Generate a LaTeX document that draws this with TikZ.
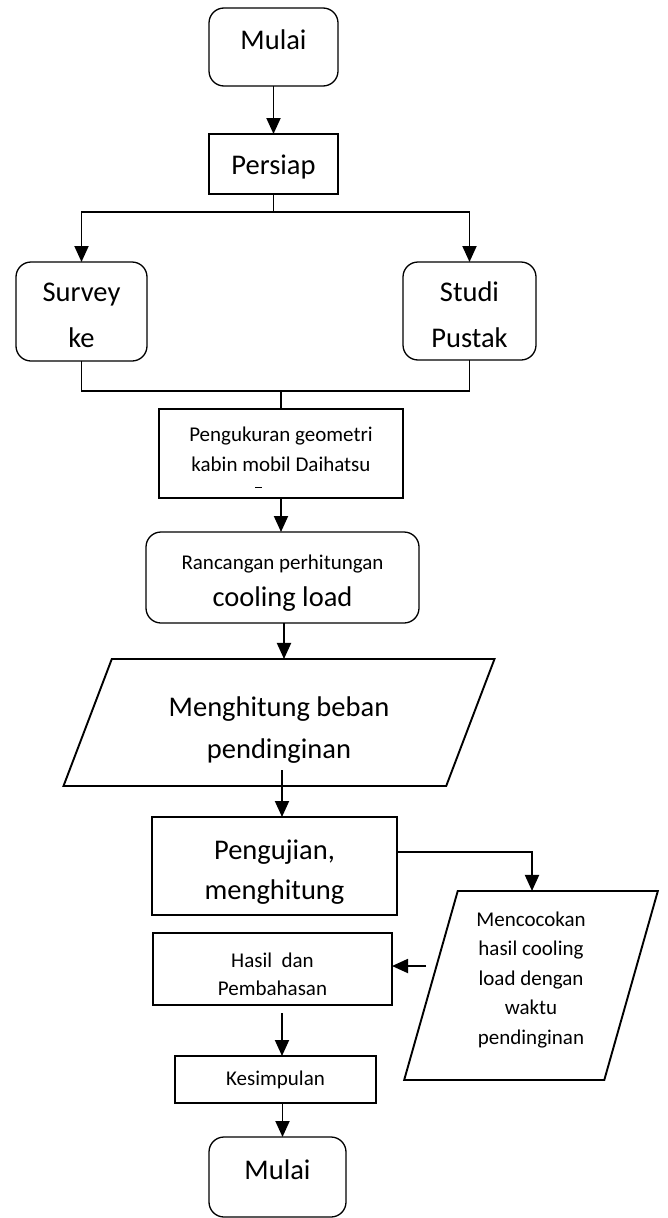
\documentclass[tikz,border=0pt]{standalone}
\usepackage{fontspec}
\setmainfont{Carlito}
\usetikzlibrary{arrows.meta,shapes.geometric}

% empty lines to nudge text up or down inside a box
\newcommand{\padtop}[1]{\mbox{}\\[#1]}
\newcommand{\padbot}[1]{\\[#1]\mbox{}}

\begin{document}
\begin{tikzpicture}[x=1pt, y=-1pt,
    flowbox/.style={draw, line width=1.9pt, inner sep=0pt, outer sep=0pt, align=center},
    roundbox/.style={flowbox, line width=1.3pt, rounded corners=15pt},
    iobox/.style={flowbox, trapezium, trapezium stretches=true},
    bigtext/.style={font=\fontsize{28.5}{41}\selectfont},
    smalltext/.style={font=\fontsize{21}{29}\selectfont},
    line/.style={line width=1.9pt},
    arr/.style={line, -{Triangle[length=16pt,width=14pt]}}]
    \useasboundingbox (0,0) rectangle (667,1218);

    % Start and preparation
    \node[roundbox, bigtext, minimum width=129pt, minimum height=78pt] (start) at (273.5,47) {Mulai\padbot{-27pt}};
    \node[flowbox, bigtext, minimum width=129pt, minimum height=60pt] (persiap) at (273.5,164) {\padtop{-16pt}Persiap};
    \draw[arr] (start) -- (persiap);

    % Survey and literature study
    \node[roundbox, font=\fontsize{28.5}{46}\selectfont, minimum width=131pt, minimum height=99pt] (survey) at (81.5,311.5) {\padtop{-20pt}Survey\\ke};
    \node[roundbox, font=\fontsize{28.5}{46}\selectfont, minimum width=133pt, minimum height=98pt] (studi) at (469.5,311) {\padtop{-19pt}Studi\\Pustak};
    \coordinate (split) at (273.5,212);
    \draw[arr] (persiap.south) -- (split) -| (survey.north);
    \draw[arr] (split) -| (studi.north);

    % Measuring the cabin
    \node[flowbox, font=\fontsize{21}{30}\selectfont, minimum width=244pt, minimum height=89pt] (ukur) at (281,453.5) {Pengukuran geometri\\kabin mobil Daihatsu\padbot{-22pt}};
    \draw[line width=0.6pt] (255,487) -- (262,487);
    \coordinate (join) at (281,391);
    \draw[line] (survey.south) |- (join) -| (studi.south);
    \draw[line] (join) -- (ukur.north);

    % Cooling load design
    \node[roundbox, smalltext, minimum width=273pt, minimum height=91pt] (rancang) at (282.5,577.5) {\padtop{-4pt}Rancangan perhitungan\\[8pt]{\fontsize{28.5}{34}\selectfont cooling load}};
    \draw[arr] (ukur.south) -- (ukur.south |- rancang.north);

    % Computing the load
    \node[iobox, font=\fontsize{28.5}{42}\selectfont, trapezium left angle=68.5, trapezium right angle=111.5,
        minimum width=432pt, minimum height=127pt] (hitung) at (279,722.5) {\padtop{-8pt}Menghitung beban\\pendinginan};
    \draw[arr] ([xshift=1.5pt]rancang.south) -- ([xshift=1.5pt]rancang.south |- hitung.north);

    % Testing
    \node[flowbox, font=\fontsize{28.5}{40}\selectfont, minimum width=245pt, minimum height=98pt] (uji) at (274.5,866) {\padtop{-9pt}Pengujian,\\menghitung};
    \coordinate (hitungout) at (282,770);
    \draw[arr] (hitungout) -- (hitungout |- uji.north);

    % Matching with cooling time
    \node[iobox, font=\fontsize{21}{29.5}\selectfont, trapezium left angle=74.9, trapezium right angle=105.1,
        minimum width=254pt, minimum height=189pt] (cocok) at (531,985.5) {Mencocokan\\hasil cooling\\load dengan\\waktu\\pendinginan\padbot{-14pt}};
    \draw[arr] ([yshift=14pt]uji.east) -| ([xshift=1pt]cocok.north);

    % Results, conclusion, end
    \node[flowbox, font=\fontsize{21}{28}\selectfont, minimum width=239pt, minimum height=72pt] (hasil) at (272.5,969) {\padtop{-3pt}Hasil~~dan\\Pembahasan};
    \coordinate (cocokout) at (426,966);
    \draw[arr] (cocokout) -- (cocokout -| hasil.east);

    \node[flowbox, smalltext, minimum width=201pt, minimum height=47pt] (simpul) at (275.5,1079.5) {Kesimpulan};
    \coordinate (hasilout) at (282,1013);
    \draw[arr] (hasilout) -- (hasilout |- simpul.north);

    \node[roundbox, bigtext, minimum width=137pt, minimum height=80pt] (finish) at (277.5,1177) {Mulai\padbot{-27pt}};
    \draw[arr] ([xshift=7pt]simpul.south) -- ([xshift=7pt]simpul.south |- finish.north);

\end{tikzpicture}
\end{document}
